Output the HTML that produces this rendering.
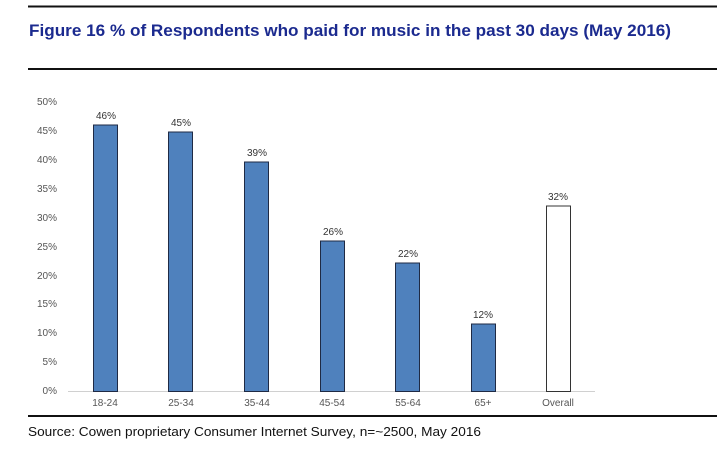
<!DOCTYPE html>
<html><head><meta charset="utf-8"><style>
html,body{margin:0;padding:0;background:#fff;}
svg{display:block;}
</style></head><body>
<svg width="717" height="463" xmlns="http://www.w3.org/2000/svg" font-family="Liberation Sans, Arial, sans-serif">
<rect width="717" height="463" fill="#fff"/>
<line x1="28" y1="6.5" x2="717" y2="6.5" stroke="#111" stroke-width="2"/>
<text x="29" y="36" font-size="17" font-weight="bold" fill="#1b2a8f" textLength="642" lengthAdjust="spacingAndGlyphs">Figure 16 % of Respondents who paid for music in the past 30 days (May 2016)</text>
<line x1="28" y1="69" x2="717" y2="69" stroke="#111" stroke-width="2"/>
<g font-size="10" fill="#555" text-anchor="end">
<text x="57" y="105">50%</text>
<text x="57" y="134">45%</text>
<text x="57" y="163">40%</text>
<text x="57" y="192">35%</text>
<text x="57" y="221">30%</text>
<text x="57" y="250">25%</text>
<text x="57" y="279">20%</text>
<text x="57" y="307">15%</text>
<text x="57" y="336">10%</text>
<text x="57" y="365">5%</text>
<text x="57" y="394">0%</text>
</g>
<line x1="68" y1="391.5" x2="595" y2="391.5" stroke="#d0d0d0" stroke-width="1"/>
<g fill="#4f81bd" stroke="#1f2a44" stroke-width="1">
<rect x="93.5" y="125" width="24" height="266.5"/>
<rect x="168.5" y="132" width="24" height="259.5"/>
<rect x="244.5" y="162" width="24" height="229.5"/>
<rect x="320.5" y="241" width="24" height="150.5"/>
<rect x="395.5" y="263" width="24" height="128.5"/>
<rect x="471.5" y="324" width="24" height="67.5"/>
</g>
<rect x="546.5" y="206" width="24" height="185.5" fill="#fff" stroke="#333" stroke-width="1"/>
<g font-size="10" fill="#333" text-anchor="middle">
<text x="106" y="119">46%</text>
<text x="181" y="126">45%</text>
<text x="257" y="156">39%</text>
<text x="333" y="235">26%</text>
<text x="408" y="257">22%</text>
<text x="483" y="318">12%</text>
<text x="558" y="200">32%</text>
</g>
<g font-size="10" fill="#555" text-anchor="middle">
<text x="105" y="406">18-24</text>
<text x="181" y="406">25-34</text>
<text x="257" y="406">35-44</text>
<text x="332" y="406">45-54</text>
<text x="408" y="406">55-64</text>
<text x="483" y="406">65+</text>
<text x="558" y="406">Overall</text>
</g>
<line x1="28" y1="416" x2="717" y2="416" stroke="#111" stroke-width="2"/>
<text x="28" y="436" font-size="12.5" fill="#111" textLength="453" lengthAdjust="spacingAndGlyphs">Source: Cowen proprietary Consumer Internet Survey, n=~2500, May 2016</text>
</svg>
</body></html>
